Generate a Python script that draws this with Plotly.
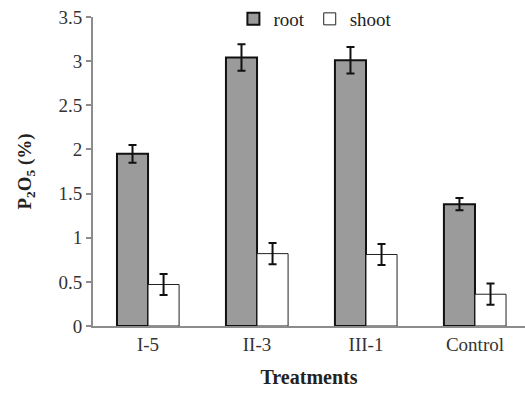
import plotly.graph_objects as go

# Phosphorus (as P2O5, %) in root and shoot tissue per treatment
treatments = ["I-5", "II-3", "III-1", "Control"]
root_vals = [1.95, 3.04, 3.01, 1.38]
root_err = [0.10, 0.15, 0.15, 0.07]
shoot_vals = [0.47, 0.82, 0.81, 0.36]
shoot_err = [0.12, 0.12, 0.12, 0.12]
y_ticks = [0, 0.5, 1, 1.5, 2, 2.5, 3, 3.5]
y_tick_text = ["0", "0.5", "1", "1.5", "2", "2.5", "3", "3.5"]

serif = "Liberation Serif"

fig = go.Figure()
fig.add_trace(go.Bar(
    name="root", x=treatments, y=root_vals,
    marker=dict(color="#9b9b9b", line=dict(color="#111111", width=2)),
    error_y=dict(type="data", array=root_err, color="#111111", thickness=2, width=4),
))
fig.add_trace(go.Bar(
    name="shoot", x=treatments, y=shoot_vals,
    marker=dict(color="#ffffff", line=dict(color="#222222", width=1)),
    error_y=dict(type="data", array=shoot_err, color="#111111", thickness=2, width=4),
))

fig.update_layout(
    width=525, height=403,
    margin=dict(l=93, r=0, t=16, b=77),
    paper_bgcolor="white", plot_bgcolor="white",
    barmode="group", bargap=0.43, bargroupgap=0,
    font=dict(family=serif, size=18, color="#333333"),
    legend=dict(
        orientation="h", x=0.325, y=0.995, xanchor="left", yanchor="middle",
        bgcolor="rgba(0,0,0,0)", font=dict(family=serif, size=19, color="#222222"),
        itemwidth=30, traceorder="normal",
    ),
    showlegend=True,
)

fig.update_xaxes(
    range=[-0.505, 3.459],
    showline=True, linecolor="#8c8c8c", linewidth=2,
    showgrid=False, ticks="", zeroline=False,
    tickfont=dict(family=serif, size=19, color="#333333"),
    title=dict(text="<b>Treatments</b>", font=dict(family=serif, size=20, color="#222222"),
               standoff=16),
)
fig.update_yaxes(
    range=[0, 3.5],
    tickvals=y_ticks, ticktext=y_tick_text,
    showline=True, linecolor="#8c8c8c", linewidth=2,
    ticks="outside", ticklen=5, tickwidth=1.5, tickcolor="#8c8c8c",
    showgrid=False, zeroline=False,
    tickfont=dict(family=serif, size=19, color="#333333"),
    title=dict(text="<b>P<sub>2</sub>O<sub>5</sub> (%)</b>",
               font=dict(family=serif, size=19, color="#222222"), standoff=22),
)

fig.write_html("out.html")
